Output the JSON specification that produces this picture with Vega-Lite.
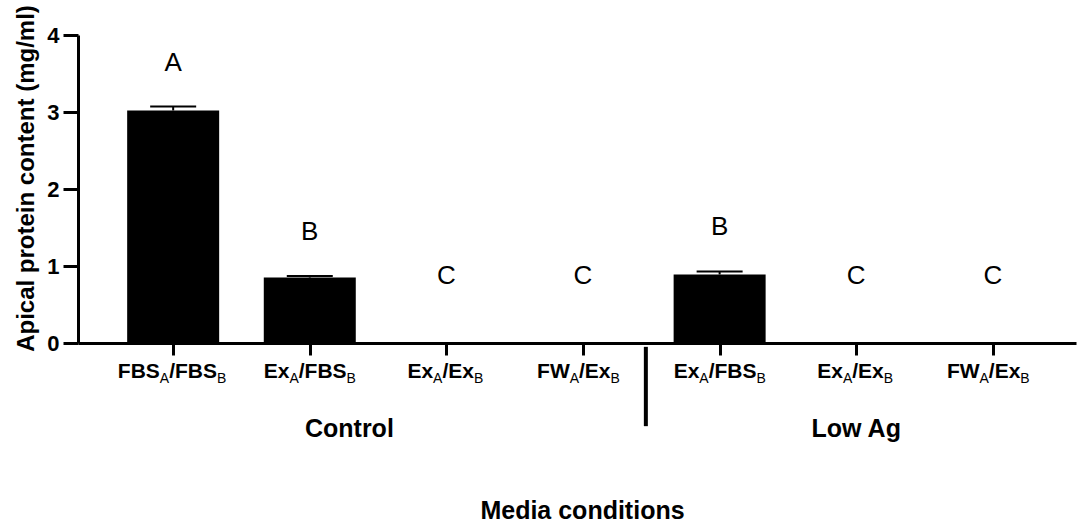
{
  "$schema": "https://vega.github.io/schema/vega-lite/v6.json",
  "width": 998,
  "height": 308,
  "autosize": "none",
  "padding": {"left": 78, "top": 35, "right": 8, "bottom": 184},
  "background": "white",
  "config": {
    "view": {"stroke": null},
    "font": "Liberation Sans",
    "text": {"font": "Liberation Sans", "color": "black"}
  },
  "datasets": {
    "conditions": [
      {"pos": 1, "group": "Control", "apical": "FBS", "basal": "FBS", "mean": 3.02, "sem": 0.05, "letter": "A"},
      {"pos": 2, "group": "Control", "apical": "Ex", "basal": "FBS", "mean": 0.85, "sem": 0.02, "letter": "B"},
      {"pos": 3, "group": "Control", "apical": "Ex", "basal": "Ex", "mean": 0, "sem": 0, "letter": "C"},
      {"pos": 4, "group": "Control", "apical": "FW", "basal": "Ex", "mean": 0, "sem": 0, "letter": "C"},
      {"pos": 5, "group": "Low Ag", "apical": "Ex", "basal": "FBS", "mean": 0.89, "sem": 0.04, "letter": "B"},
      {"pos": 6, "group": "Low Ag", "apical": "Ex", "basal": "Ex", "mean": 0, "sem": 0, "letter": "C"},
      {"pos": 7, "group": "Low Ag", "apical": "FW", "basal": "Ex", "mean": 0, "sem": 0, "letter": "C"}
    ],
    "groups": [
      {"group": "Control", "pos": 2.29},
      {"group": "Low Ag", "pos": 6}
    ]
  },
  "layer": [
    {
      "data": {"name": "conditions"},
      "mark": {"type": "bar", "width": 92, "color": "black"},
      "encoding": {
        "x": {
          "field": "pos",
          "type": "quantitative",
          "scale": {"domain": [0.34, 7.572], "nice": false, "zero": false},
          "axis": {
            "title": "Media conditions",
            "values": [1, 2, 3, 4, 5, 6, 7],
            "labels": false,
            "grid": false,
            "domainColor": "black",
            "domainWidth": 3,
            "tickColor": "black",
            "tickWidth": 3,
            "tickSize": 12,
            "titleFont": "Liberation Sans",
            "titleFontSize": 25,
            "titleFontWeight": "bold",
            "titleColor": "black",
            "titleX": 504,
            "titleY": 175,
            "titleAlign": "center",
            "titleBaseline": "alphabetic"
          }
        },
        "y": {
          "field": "mean",
          "type": "quantitative",
          "scale": {"domain": [0, 4], "nice": false},
          "axis": {
            "title": "Apical protein content (mg/ml)",
            "values": [0, 1, 2, 3, 4],
            "format": "d",
            "grid": false,
            "domainColor": "black",
            "domainWidth": 3,
            "tickColor": "black",
            "tickWidth": 3,
            "tickSize": 15,
            "labelFont": "Liberation Sans",
            "labelFontSize": 22,
            "labelFontWeight": "bold",
            "labelColor": "black",
            "labelPadding": 4,
            "titleFont": "Liberation Sans",
            "titleFontSize": 24,
            "titleFontWeight": "bold",
            "titleColor": "black",
            "titlePadding": 8,
            "titleY": 143
          }
        }
      }
    },
    {
      "data": {"name": "conditions"},
      "transform": [
        {"filter": "datum.sem > 0"},
        {"calculate": "datum.mean + datum.sem", "as": "upper"}
      ],
      "mark": {"type": "rule", "color": "black", "strokeWidth": 2},
      "encoding": {
        "x": {"field": "pos", "type": "quantitative"},
        "y": {"field": "mean", "type": "quantitative"},
        "y2": {"field": "upper"}
      }
    },
    {
      "data": {"name": "conditions"},
      "transform": [
        {"filter": "datum.sem > 0"},
        {"calculate": "datum.mean + datum.sem", "as": "upper"}
      ],
      "mark": {"type": "tick", "orient": "horizontal", "color": "black", "size": 46, "thickness": 2, "opacity": 1},
      "encoding": {
        "x": {"field": "pos", "type": "quantitative"},
        "y": {"field": "upper", "type": "quantitative"}
      }
    },
    {
      "data": {"name": "conditions"},
      "transform": [
        {"calculate": "max(datum.mean + datum.sem, 0.3)", "as": "letterAt"}
      ],
      "mark": {"type": "text", "fontSize": 26, "baseline": "alphabetic", "align": "center", "dy": -36},
      "encoding": {
        "x": {"field": "pos", "type": "quantitative"},
        "y": {"field": "letterAt", "type": "quantitative"},
        "text": {"field": "letter"}
      }
    },
    {
      "data": {"name": "conditions"},
      "transform": [
        {"filter": "!(datum.apical == 'Ex' && datum.basal == 'FBS')"},
        {"calculate": "'/' + datum.basal", "as": "basalText"}
      ],
      "encoding": {
        "x": {"field": "pos", "type": "quantitative"},
        "y": {"datum": 0, "type": "quantitative"}
      },
      "layer": [
        {
          "mark": {"type": "text", "fontSize": 21, "fontWeight": "bold", "baseline": "alphabetic", "align": "right", "dx": -13.3, "dy": 35},
          "encoding": {"text": {"field": "apical"}}
        },
        {
          "mark": {"type": "text", "fontSize": 14, "baseline": "alphabetic", "align": "right", "dx": -4, "dy": 40},
          "encoding": {"text": {"value": "A"}}
        },
        {
          "mark": {"type": "text", "fontSize": 21, "fontWeight": "bold", "baseline": "alphabetic", "align": "left", "dx": -4, "dy": 35},
          "encoding": {"text": {"field": "basalText"}}
        },
        {
          "transform": [{"filter": "datum.basal == 'FBS'"}],
          "mark": {"type": "text", "fontSize": 14, "baseline": "alphabetic", "align": "left", "dx": 43.8, "dy": 40},
          "encoding": {"text": {"value": "B"}}
        },
        {
          "transform": [{"filter": "datum.basal == 'Ex'"}],
          "mark": {"type": "text", "fontSize": 14, "baseline": "alphabetic", "align": "left", "dx": 27.5, "dy": 40},
          "encoding": {"text": {"value": "B"}}
        }
      ]
    },
    {
      "data": {"name": "conditions"},
      "transform": [
        {"filter": "datum.apical == 'Ex' && datum.basal == 'FBS'"},
        {"calculate": "'/' + datum.basal", "as": "basalText"}
      ],
      "encoding": {
        "x": {"field": "pos", "type": "quantitative"},
        "y": {"datum": 0, "type": "quantitative"}
      },
      "layer": [
        {
          "mark": {"type": "text", "fontSize": 21, "fontWeight": "bold", "baseline": "alphabetic", "align": "right", "dx": -20.3, "dy": 35},
          "encoding": {"text": {"field": "apical"}}
        },
        {
          "mark": {"type": "text", "fontSize": 14, "baseline": "alphabetic", "align": "right", "dx": -11, "dy": 40},
          "encoding": {"text": {"value": "A"}}
        },
        {
          "mark": {"type": "text", "fontSize": 21, "fontWeight": "bold", "baseline": "alphabetic", "align": "left", "dx": -11, "dy": 35},
          "encoding": {"text": {"field": "basalText"}}
        },
        {
          "mark": {"type": "text", "fontSize": 14, "baseline": "alphabetic", "align": "left", "dx": 36.8, "dy": 40},
          "encoding": {"text": {"value": "B"}}
        }
      ]
    },
    {
      "data": {"name": "groups"},
      "mark": {"type": "text", "fontSize": 25, "fontWeight": "bold", "baseline": "alphabetic", "align": "center", "dy": 94},
      "encoding": {
        "x": {"field": "pos", "type": "quantitative"},
        "y": {"datum": 0, "type": "quantitative"},
        "text": {"field": "group"}
      }
    },
    {
      "data": {"values": [{}]},
      "mark": {"type": "rule", "color": "black", "strokeWidth": 4},
      "encoding": {
        "x": {"datum": 4.46, "type": "quantitative"},
        "y": {"datum": -0.05, "type": "quantitative"},
        "y2": {"datum": -1.08}
      }
    }
  ]
}
